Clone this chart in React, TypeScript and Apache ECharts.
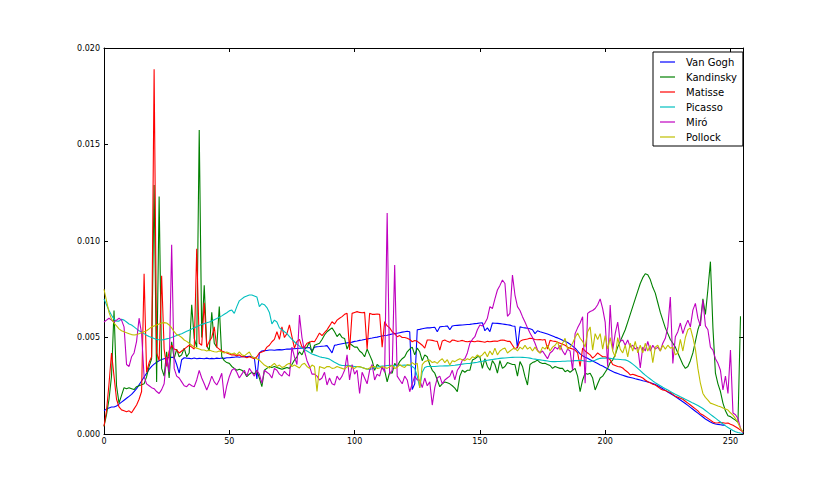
import React, { useEffect, useRef } from "react";
import * as echarts from "echarts";

// values are in thousandths (×1e-3); axis labels show the real value
const seriesNames = ["Van Gogh", "Kandinsky", "Matisse", "Picasso", "Miró", "Pollock"];
const seriesColors = ["#0000ff", "#008000", "#ff0000", "#00bfbf", "#bf00bf", "#bfbf00"];
const xTicks = [0, 50, 100, 150, 200, 250];
const yTicks = [0, 5, 10, 15, 20];

const vanGogh = [
  1.2,1.3,1.35,1.4,1.4,1.45,1.55,1.65,1.75,1.85,
  1.95,2.05,2.2,2.35,2.55,2.75,2.95,3.15,3.35,3.5,
  3.62,3.72,3.8,3.86,3.9,3.93,3.96,3.98,3.97,3.6,
  3.15,3.85,3.95,3.93,3.92,3.9,3.94,3.9,3.92,3.91,
  3.9,3.93,3.9,3.92,3.9,3.93,3.91,3.94,3.92,3.95,
  3.95,3.97,3.98,4.0,3.98,4.0,4.02,4.0,4.03,4.0,
  3.95,2.85,4.2,4.3,4.32,4.33,4.35,4.35,4.34,4.36,
  4.37,4.36,4.38,4.4,4.4,4.41,4.42,4.43,4.44,4.45,
  4.46,4.47,4.48,4.3,4.5,4.52,4.53,4.55,4.56,4.58,
  4.4,4.2,4.6,4.62,4.65,4.68,4.7,4.72,4.74,4.76,
  4.8,4.82,4.85,4.87,4.9,4.92,4.95,4.97,5.0,5.02,
  5.05,5.08,5.1,5.12,5.15,5.18,5.2,5.22,5.25,5.28,
  5.3,5.32,5.3,2.3,2.6,5.4,5.42,5.45,5.48,5.5,
  5.5,5.52,5.53,5.3,5.55,5.57,5.58,5.6,5.4,5.6,
  5.62,5.63,5.64,5.65,5.66,5.67,5.68,5.7,5.72,5.73,
  5.75,5.76,5.35,5.5,5.3,5.75,5.74,5.73,5.72,5.7,
  5.68,5.66,5.64,5.6,5.58,4.45,5.55,5.52,5.5,5.48,
  5.45,5.4,5.2,5.35,5.3,5.26,5.22,5.18,5.13,5.08,
  5.02,4.98,4.92,4.86,4.8,4.74,4.65,4.55,4.45,4.3,
  4.15,4.05,3.98,3.92,3.85,3.78,3.72,3.65,3.58,3.52,
  3.45,3.38,3.3,3.24,3.18,3.13,3.08,3.04,3.0,2.96,
  2.93,2.9,2.86,2.83,2.8,2.76,2.73,2.7,2.66,2.62,
  2.56,2.5,2.42,2.34,2.26,2.18,2.1,2.02,1.94,1.85,
  1.76,1.67,1.58,1.48,1.38,1.28,1.18,1.08,0.98,0.88,
  0.78,0.7,0.62,0.56,0.52,0.5,0.48,0.46,0.45
];

const kandinsky = [
  0.4,1.0,1.8,3.0,6.4,2.5,1.6,2.0,2.4,2.35,
  2.4,2.35,2.3,2.45,2.5,2.55,2.6,2.97,3.5,3.9,
  12.9,2.7,12.3,3.4,3.0,4.26,2.9,4.78,3.9,4.4,
  4.0,4.1,4.45,4.0,4.2,6.7,4.95,4.5,15.75,5.0,
  7.7,4.6,4.3,6.3,4.7,4.5,6.6,4.0,3.8,3.7,
  3.66,3.5,3.4,3.3,3.35,3.3,3.2,2.97,3.1,3.2,
  3.1,3.3,2.9,2.45,3.3,3.4,3.49,3.45,3.5,3.45,
  3.4,3.35,3.4,3.45,3.4,3.6,3.83,4.0,4.26,4.1,
  4.4,4.5,4.78,4.2,4.6,4.65,4.7,4.9,5.13,5.3,
  5.4,5.5,5.3,5.05,5.2,5.0,4.95,4.4,4.7,4.6,
  4.5,4.5,4.3,4.2,4.0,4.4,4.1,3.8,3.3,3.6,
  3.49,3.4,3.3,2.7,3.2,3.15,3.66,3.5,3.75,3.9,
  4.0,4.26,4.4,4.5,4.1,4.45,4.26,3.8,4.1,4.0,
  3.6,3.3,3.15,2.8,2.45,2.6,2.7,2.65,2.6,2.5,
  2.38,2.19,3.0,3.3,3.2,3.3,3.3,3.83,3.9,4.0,
  4.0,3.4,3.9,3.5,3.3,3.8,3.6,3.15,3.8,3.4,
  3.5,3.7,3.65,3.6,3.6,3.0,3.75,3.5,2.97,2.54,
  3.6,3.7,3.75,3.83,3.7,3.65,3.66,3.6,3.55,3.4,
  3.5,3.45,3.4,3.4,3.23,3.3,3.2,3.3,3.4,3.0,
  2.19,2.8,3.15,3.1,3.15,2.9,2.28,2.6,2.9,3.0,
  3.2,3.4,3.7,3.83,4.1,4.5,4.8,5.1,5.4,5.8,
  6.2,6.6,7.0,7.4,7.8,8.1,8.3,8.25,8.0,7.6,
  7.3,6.8,6.3,5.9,5.5,5.2,4.9,4.7,4.5,4.2,
  3.9,3.6,3.4,3.5,3.8,4.2,4.8,5.4,5.8,7.0,
  6.2,7.5,8.93,5.5,3.15,2.6,2.2,1.6,1.2,0.95,
  0.9,0.8,0.72,0.6,6.1
];

const matisse = [
  0.4,1.2,2.6,4.2,3.0,1.8,1.4,1.25,1.2,1.15,
  1.2,1.1,1.3,1.5,1.8,2.2,8.3,3.2,3.7,4.0,
  18.9,4.2,3.8,8.2,4.4,3.5,4.3,4.6,4.4,4.35,
  4.2,4.3,4.4,4.5,4.6,4.5,4.4,9.6,4.7,4.6,
  6.8,4.5,4.8,5.0,5.55,4.5,4.4,4.3,4.25,4.2,
  4.15,4.1,4.1,4.05,4.1,4.0,4.0,3.95,4.0,3.95,
  3.9,4.0,4.2,4.25,4.3,4.5,4.6,4.78,4.9,5.3,
  4.9,5.55,5.0,5.2,5.65,5.04,4.45,4.8,4.9,4.5,
  4.5,4.7,4.75,4.8,4.78,5.0,5.23,5.1,5.25,5.4,
  5.6,5.82,5.7,5.9,6.0,6.08,6.2,6.25,4.35,6.25,
  6.3,6.34,6.3,6.28,6.3,4.4,6.25,6.2,6.2,6.22,
  6.2,4.5,5.82,5.6,5.5,5.3,5.2,5.04,5.1,5.0,
  5.0,4.96,4.9,4.78,4.85,4.8,4.7,4.6,4.45,4.87,
  4.87,4.85,4.82,4.8,4.35,4.82,4.87,4.8,4.75,4.87,
  4.85,4.8,4.82,4.85,4.8,4.78,4.8,4.8,4.78,4.82,
  4.8,4.78,4.75,4.8,4.78,4.8,4.82,4.8,4.85,4.87,
  4.85,4.8,4.8,4.6,4.4,4.5,4.8,4.87,4.9,4.92,
  4.96,4.95,4.9,4.88,4.9,4.87,4.9,4.4,4.85,4.82,
  4.8,4.75,4.7,4.65,4.6,4.5,4.45,4.4,4.35,4.2,
  3.5,4.45,4.3,4.2,4.1,3.93,4.05,4.2,4.1,4.0,
  4.0,3.95,3.85,3.6,3.55,3.5,3.48,3.42,3.3,3.2,
  3.06,3.1,3.05,3.0,2.97,2.9,2.8,2.71,2.65,2.58,
  2.54,2.45,2.35,2.28,2.25,2.19,2.15,2.05,1.95,1.9,
  1.85,1.8,1.7,1.6,1.5,1.4,1.3,1.2,1.05,0.98,
  0.9,0.81,0.72,0.62,0.57,0.58,0.6,0.58,0.56,0.57,
  0.5,0.45,0.38,0.3,0.2,0.12
];

const picasso = [
  7.0,6.7,6.4,6.15,5.95,5.85,5.85,5.95,5.9,5.8,
  5.7,5.65,5.55,5.45,5.35,5.28,5.2,5.12,5.05,5.0,
  4.95,4.9,4.88,4.87,4.9,4.93,4.96,5.0,5.05,5.1,
  5.15,5.2,5.26,5.32,5.38,5.44,5.5,5.56,5.62,5.68,
  5.72,5.76,5.8,5.85,5.92,5.98,6.05,6.12,6.2,6.28,
  6.38,6.42,6.25,6.6,6.9,7.0,7.1,7.15,7.2,7.2,
  7.15,7.1,6.6,6.75,6.7,6.55,6.3,5.7,5.9,5.8,
  5.5,5.4,5.3,5.2,5.05,4.9,4.78,4.65,4.55,4.45,
  4.38,4.3,4.22,4.15,4.1,4.05,4.0,3.97,3.95,3.92,
  3.88,3.8,3.72,3.65,3.58,3.55,3.55,3.56,3.55,3.52,
  3.5,3.5,3.48,3.45,3.4,3.37,3.35,3.38,3.42,3.47,
  3.5,3.52,3.53,3.55,3.56,3.55,3.55,3.54,3.55,3.56,
  3.57,3.56,3.55,3.5,3.4,3.0,2.4,3.2,3.45,3.5,
  3.5,3.5,3.5,3.51,3.52,3.52,3.53,3.53,3.54,3.55,
  3.56,3.58,3.6,3.62,3.64,3.65,3.66,3.68,3.7,3.72,
  3.75,3.77,3.8,3.82,3.84,3.86,3.88,3.9,3.92,3.93,
  3.94,3.95,3.96,3.97,3.98,3.98,3.98,3.97,3.96,3.95,
  3.93,3.9,3.88,3.86,3.84,3.82,3.8,3.78,3.76,3.75,
  3.75,3.76,3.76,3.77,3.77,3.78,3.78,3.79,3.8,3.8,
  3.82,3.8,3.78,3.76,3.75,3.78,3.82,3.88,3.92,3.93,
  3.94,3.93,3.92,3.9,3.88,3.87,3.86,3.85,3.84,3.8,
  3.72,3.62,3.52,3.4,3.28,3.16,3.05,2.95,2.85,2.75,
  2.66,2.58,2.5,2.42,2.35,2.28,2.2,2.13,2.06,2.0,
  1.93,1.87,1.8,1.74,1.67,1.6,1.54,1.48,1.4,1.32,
  1.22,1.12,1.02,0.92,0.82,0.72,0.62,0.52,0.42,0.34,
  0.26,0.18,0.12,0.08,0.05,0.03
];

const miro = [
  5.8,5.9,6.0,5.9,5.8,5.9,6.0,5.9,5.55,3.6,
  3.5,4.0,4.2,4.8,6.0,5.2,2.97,2.6,2.5,2.4,
  2.35,2.2,2.1,2.3,2.6,4.0,3.2,9.8,3.4,3.0,
  2.9,2.7,2.5,2.45,2.6,2.5,2.45,2.8,3.3,2.9,
  2.6,2.28,2.6,3.0,2.7,2.54,2.8,3.15,1.85,2.5,
  2.97,3.3,3.4,3.2,2.9,3.1,3.3,3.0,3.4,3.2,
  3.0,3.3,3.1,2.63,3.3,3.2,3.1,2.9,3.4,3.3,
  3.1,3.0,3.25,3.1,3.0,4.5,4.0,3.6,6.16,5.0,
  4.3,3.8,3.5,3.1,3.1,3.0,2.8,2.9,3.2,2.54,
  2.9,2.6,2.54,3.0,2.8,3.0,3.3,4.1,2.8,3.6,
  3.1,3.3,2.1,3.2,2.9,2.6,3.3,3.6,2.8,3.1,
  3.0,3.5,3.2,11.45,3.1,3.3,8.76,3.0,2.8,2.6,
  3.0,2.8,2.19,2.6,3.0,2.8,2.8,2.4,2.9,2.5,
  2.7,1.5,2.4,2.9,3.0,2.6,2.8,2.9,3.0,3.3,
  2.8,3.3,3.49,3.83,3.9,4.2,4.7,4.9,5.04,5.4,
  5.65,5.6,5.75,6.0,6.6,6.5,7.0,7.46,7.7,7.98,
  7.8,6.1,6.25,8.24,7.2,6.6,6.4,6.08,5.8,5.5,
  5.23,5.0,4.7,4.35,4.2,4.3,4.1,3.9,4.2,4.3,
  4.5,4.4,4.6,4.3,4.1,4.4,4.3,3.3,5.2,5.5,
  5.75,6.08,2.63,6.25,6.35,6.4,6.5,6.7,7.0,6.5,
  5.8,3.49,6.68,4.35,5.2,5.8,4.8,4.87,4.6,4.87,
  4.5,4.6,4.4,4.5,3.42,4.5,4.3,4.8,4.3,4.6,
  4.4,4.5,4.3,4.7,4.96,5.55,7.1,3.66,5.04,5.3,
  5.75,5.2,5.6,5.9,5.55,6.42,6.77,6.0,5.6,6.94,
  5.6,5.4,4.5,4.35,3.9,3.66,3.3,2.28,3.0,2.1,
  4.35,1.09,1.0,0.8,0.3,0.05
];

const pollock = [
  7.5,6.9,6.3,5.95,5.75,5.6,5.45,5.35,5.3,5.25,
  5.2,5.15,5.13,5.15,5.2,5.25,5.3,5.35,5.45,5.55,
  5.6,5.65,5.7,5.75,5.77,5.75,5.65,5.5,5.3,5.15,
  5.1,5.0,4.87,4.8,4.7,4.6,4.5,4.45,4.4,4.35,
  4.35,4.3,4.35,4.3,4.26,4.25,4.3,4.25,4.2,4.25,
  4.2,4.15,4.2,4.1,4.25,4.1,4.05,4.15,4.25,4.0,
  3.95,3.9,3.83,3.7,3.57,3.5,3.42,3.55,3.66,3.5,
  3.57,3.45,3.49,3.6,3.66,3.5,3.57,3.5,3.42,3.6,
  3.66,3.5,3.4,3.57,3.5,2.2,3.49,3.45,3.4,3.5,
  3.49,3.4,3.42,3.5,3.45,3.4,3.35,3.49,3.52,3.45,
  3.4,3.5,3.49,3.45,3.4,3.35,3.42,3.5,3.49,3.4,
  3.42,3.5,3.45,3.4,3.49,3.55,3.4,3.45,3.6,3.5,
  3.45,3.6,3.57,3.7,3.6,3.66,2.38,3.6,3.75,3.8,
  3.83,3.7,3.75,3.66,3.8,3.9,3.7,3.85,3.57,3.8,
  3.75,3.83,3.9,3.85,3.8,3.9,3.85,4.0,3.95,4.1,
  4.0,4.1,4.26,4.0,4.3,4.1,4.45,4.1,4.3,4.4,
  4.45,4.2,4.3,4.4,4.45,4.3,4.5,4.4,4.6,4.4,
  4.5,4.3,4.5,4.3,4.2,4.5,4.4,4.6,4.3,4.5,
  4.6,4.78,4.35,4.7,4.96,4.4,4.5,4.7,5.0,5.23,
  4.96,4.8,4.5,5.3,5.55,4.35,5.2,4.9,5.2,4.4,
  5.1,4.4,5.0,4.3,4.0,5.0,4.4,4.2,4.6,4.0,
  4.7,4.3,4.8,4.2,4.6,4.2,4.7,4.3,4.6,3.7,
  4.5,4.6,4.3,4.6,4.4,4.6,4.45,4.5,4.1,4.2,
  4.9,4.3,5.0,5.4,5.5,5.0,4.4,3.4,2.63,2.1,
  1.9,1.76,1.6,1.55,1.5,1.45,1.41,1.35,1.3,1.24,
  1.1,0.98,0.8,0.57,0.3,0.1
];

const seriesValues = [vanGogh, kandinsky, matisse, picasso, miro, pollock];

const FONT = "DejaVu Sans";

export default function App() {
  const ref = useRef<HTMLDivElement>(null);
  useEffect(() => {
    if (!ref.current) return;
    const chart = echarts.init(ref.current, null, { renderer: "svg" });
    const tickLabel = { color: "#000", fontFamily: FONT, fontSize: 8 };
    const axisLine = { show: true, onZero: false, lineStyle: { color: "#000", width: 1 } };
    const axisTick = { show: true, inside: true, length: 4, lineStyle: { color: "#000" } };
    chart.setOption({
      animation: false,
      backgroundColor: "#ffffff",
      grid: { left: 104, right: 87, top: 48, bottom: 48, containLabel: false },
      legend: {
        orient: "vertical",
        left: 653,
        top: 52,
        padding: [4, 6, 3, 7],
        icon: "rect",
        itemWidth: 15,
        itemHeight: 1.2,
        itemGap: 3,
        borderColor: "#000",
        borderWidth: 1,
        borderRadius: 0,
        backgroundColor: "#fff",
        textStyle: { color: "#000", fontFamily: FONT, fontSize: 10, lineHeight: 12, padding: [0, 0, 0, 6] },
        data: seriesNames,
      },
      xAxis: [
        {
          type: "value",
          min: 0,
          max: 255,
          interval: 50,
          position: "bottom",
          axisLine,
          axisTick,
          splitLine: { show: false },
          axisLabel: { ...tickLabel, margin: 3, showMaxLabel: false,
            formatter: (v: number) => (xTicks.includes(v) ? String(v) : "") },
        },
        {
          type: "value",
          min: 0,
          max: 255,
          interval: 50,
          position: "top",
          axisLine,
          axisTick,
          splitLine: { show: false },
          axisLabel: { show: false },
        },
      ],
      yAxis: [
        {
          type: "value",
          min: 0,
          max: 20,
          interval: 5,
          position: "left",
          axisLine,
          axisTick,
          splitLine: { show: false },
          axisLabel: { ...tickLabel, margin: 4,
            formatter: (v: number) => (yTicks.includes(v) ? (v / 1000).toFixed(3) : "") },
        },
        {
          type: "value",
          min: 0,
          max: 20,
          interval: 5,
          position: "right",
          axisLine,
          axisTick,
          splitLine: { show: false },
          axisLabel: { show: false },
        },
      ],
      series: seriesNames.map((name, k) => ({
        name,
        type: "line",
        xAxisIndex: 0,
        yAxisIndex: 0,
        symbol: "none",
        showSymbol: false,
        lineStyle: { color: seriesColors[k], width: 1.1 },
        itemStyle: { color: seriesColors[k] },
        data: seriesValues[k].map((v, i) => [i, v]),
      })),
    });
    return () => chart.dispose();
  }, []);
  return (
    <div
      ref={ref}
      style={{ position: "fixed", left: 0, top: 0, width: 830, height: 482, background: "#fff" }}
    />
  );
}
